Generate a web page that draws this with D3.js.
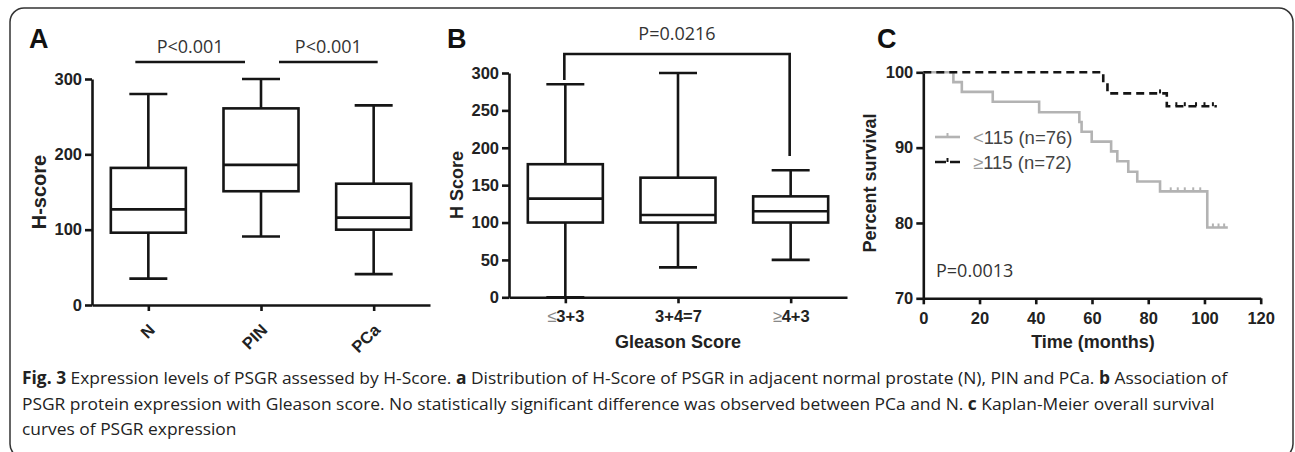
<!DOCTYPE html>
<html>
<head>
<meta charset="utf-8">
<style>
  body { margin: 0; background: #fff; }
  svg text { font-family: "Liberation Sans", Arial, sans-serif; }
</style>
</head>
<body>
<div id="fig"></div>
<script src="https://d3js.org/d3.v7.min.js"></script>
<script>
// ---- data ----
// panel A: H-score by tissue
var groupsA = ["N", "PIN", "PCa"];
var minA = [35, 91, 41];
var q1A  = [96, 151, 100];
var medA = [127, 186, 116];
var q3A  = [182, 261, 161];
var maxA = [280, 300, 265];
var ticksA = [0, 100, 200, 300];

// panel B: H score by Gleason score
var groupsB = ["≤3+3", "3+4=7", "≥4+3"];
var minB = [0, 40, 50];
var q1B  = [100, 100, 100];
var medB = [132, 110, 115];
var q3B  = [178, 160, 135];
var maxB = [285, 300, 170];
var ticksB = [0, 50, 100, 150, 200, 250, 300];

// panel C: Kaplan-Meier
var lowTime = [0, 10.7, 13.7, 24.7, 41.2, 55.5, 56.3, 59.9, 66.8, 69.0, 72.9, 76.1, 84.2, 101.0, 108.3];
var lowSurv = [100, 98.7, 97.4, 96.1, 94.7, 93.4, 92.1, 90.8, 89.5, 88.2, 86.8, 85.5, 84.2, 79.4, 79.4];
var lowCensor = [88, 90.5, 93, 96, 98.5, 103, 105, 107];
var highTime = [0, 64, 65.5, 86.6, 104.4];
var highSurv = [100, 98.6, 97.2, 95.5, 95.5];
var highCensor = [84.2, 90, 93, 97, 100, 103];
var ticksCX = [0, 20, 40, 60, 80, 100, 120];
var ticksCY = [70, 80, 90, 100];

var svg = d3.select("#fig").append("svg")
    .attr("width", 1295)
    .attr("height", 452);

// frame
svg.append("rect")
    .attr("x", 10).attr("y", 8)
    .attr("width", 1283).attr("height", 450)
    .attr("rx", 14)
    .attr("fill", "none")
    .attr("stroke", "#333")
    .attr("stroke-width", 1.5);

var lw = 2.6;
var ink = "#151515";

function styleAxis(g) {
  g.selectAll("path, line").attr("stroke", ink).attr("stroke-width", lw);
  g.selectAll("text")
    .attr("fill", "#222")
    .style("font-size", "16.5px")
    .style("font-weight", "bold");
}

function boxes(g, x, y, cats, mn, q1, md, q3, mx) {
  var bw = 75, cw = 38;
  cats.forEach(function(c, i) {
    var cx = x(c);
    var b = g.append("g").attr("stroke", ink).attr("stroke-width", lw).attr("fill", "none");
    b.append("line").attr("x1", cx).attr("x2", cx).attr("y1", y(mn[i])).attr("y2", y(q1[i]));
    b.append("line").attr("x1", cx).attr("x2", cx).attr("y1", y(q3[i])).attr("y2", y(mx[i]));
    b.append("line").attr("x1", cx - cw / 2).attr("x2", cx + cw / 2).attr("y1", y(mn[i])).attr("y2", y(mn[i]));
    b.append("line").attr("x1", cx - cw / 2).attr("x2", cx + cw / 2).attr("y1", y(mx[i])).attr("y2", y(mx[i]));
    b.append("rect").attr("x", cx - bw / 2).attr("width", bw)
      .attr("y", y(q3[i])).attr("height", y(q1[i]) - y(q3[i]));
    b.append("line").attr("x1", cx - bw / 2).attr("x2", cx + bw / 2).attr("y1", y(md[i])).attr("y2", y(md[i]));
  });
}

function panelLabel(txt, x) {
  svg.append("text").attr("x", x).attr("y", 48)
    .style("font-size", "27px").style("font-weight", "bold")
    .attr("fill", "#111").text(txt);
}

// ---- panel A ----
var xA = d3.scalePoint().domain(groupsA).range([92, 430]).padding(0.5);
var yA = d3.scaleLinear().domain([0, 300]).range([305, 79]);

var gA = svg.append("g");
gA.append("g").attr("transform", "translate(0,305)")
  .call(d3.axisBottom(xA).tickSize(6).tickSizeOuter(0))
  .call(styleAxis)
  .selectAll("text")
    .attr("x", 0).attr("y", 0).attr("dy", 0)
    .attr("text-anchor", "end")
    .attr("transform", "translate(7,26) rotate(-45)");
gA.append("g").attr("transform", "translate(92,0)")
  .call(d3.axisLeft(yA).tickValues(ticksA).tickSize(7).tickPadding(3).tickSizeOuter(0))
  .call(styleAxis);
boxes(gA, xA, yA, groupsA, minA, q1A, medA, q3A, maxA);

gA.append("text")
  .attr("transform", "translate(46,192) rotate(-90)")
  .attr("text-anchor", "middle")
  .style("font-size", "20px").style("font-weight", "bold").attr("fill", "#222")
  .text("H-score");

var sigA = [[xA("N") - 13, xA("PIN") - 16], [xA("PIN") + 18, xA("PCa") + 4]];
sigA.forEach(function(s) {
  gA.append("line").attr("x1", s[0]).attr("x2", s[1]).attr("y1", 62).attr("y2", 62)
    .attr("stroke", ink).attr("stroke-width", lw);
  gA.append("text").attr("x", (s[0] + s[1]) / 2).attr("y", 53)
    .attr("text-anchor", "middle")
    .style("font-family", "'Open Sans', sans-serif").style("font-size", "18px")
    .attr("fill", "#333").text("P<0.001");
});
panelLabel("A", 29);

// ---- panel B ----
var xB = d3.scalePoint().domain(groupsB).range([509, 847]).padding(0.5);
var yB = d3.scaleLinear().domain([0, 300]).range([297.3, 73]);

var gB = svg.append("g");
var axB = gB.append("g").attr("transform", "translate(0,297.3)")
  .call(d3.axisBottom(xB).tickSize(6).tickPadding(7).tickSizeOuter(0))
  .call(styleAxis);
axB.selectAll(".tick text").each(function(d) {
  var t = d3.select(this);
  var first = d.charAt(0);
  if (first === "≤" || first === "≥") {
    t.text(null);
    t.append("tspan").attr("fill", "#888").style("font-weight", "normal").text(first);
    t.append("tspan").text(d.slice(1));
  }
});
gB.append("g").attr("transform", "translate(509,0)")
  .call(d3.axisLeft(yB).tickValues(ticksB).tickSize(7).tickPadding(3).tickSizeOuter(0))
  .call(styleAxis);
boxes(gB, xB, yB, groupsB, minB, q1B, medB, q3B, maxB);

gB.append("text")
  .attr("transform", "translate(463,185) rotate(-90)")
  .attr("text-anchor", "middle")
  .style("font-size", "18px").style("font-weight", "bold").attr("fill", "#222")
  .text("H Score");
gB.append("text").attr("x", 678).attr("y", 348)
  .attr("text-anchor", "middle")
  .style("font-size", "18px").style("font-weight", "bold").attr("fill", "#222")
  .text("Gleason Score");

var bl = xB(groupsB[0]) - 1, br = xB(groupsB[2]) - 1;
gB.append("path")
  .attr("d", "M" + bl + ",80V54H" + br + "V156")
  .attr("fill", "none").attr("stroke", ink).attr("stroke-width", lw);
gB.append("text").attr("x", (bl + br) / 2).attr("y", 40)
  .attr("text-anchor", "middle")
  .style("font-family", "'Open Sans', sans-serif").style("font-size", "18px")
  .attr("fill", "#333").text("P=0.0216");
panelLabel("B", 447);

// ---- panel C ----
var xC = d3.scaleLinear().domain([0, 120]).range([923.3, 1260.7]);
var yC = d3.scaleLinear().domain([70, 100]).range([298.3, 72.3]);

var gC = svg.append("g");
gC.append("g").attr("transform", "translate(0,298.3)")
  .call(d3.axisBottom(xC).tickValues(ticksCX).tickSize(6).tickPadding(8).tickSizeOuter(0))
  .call(styleAxis);
gC.append("g").attr("transform", "translate(923.3,0)")
  .call(d3.axisLeft(yC).tickValues(ticksCY).tickSize(7).tickPadding(3).tickSizeOuter(0))
  .call(styleAxis);

var step = d3.line()
  .x(function(d) { return xC(d[0]); })
  .y(function(d) { return yC(d[1]); })
  .curve(d3.curveStepAfter);

var lowPts = lowTime.map(function(t, i) { return [t, lowSurv[i]]; });
var highPts = highTime.map(function(t, i) { return [t, highSurv[i]]; });

function survAt(times, surv, t) {
  var s = surv[0];
  times.forEach(function(tt, i) { if (tt <= t) s = surv[i]; });
  return s;
}

gC.append("path").attr("d", step(lowPts))
  .attr("fill", "none").attr("stroke", "#b3b3b3").attr("stroke-width", lw);
lowCensor.forEach(function(t) {
  var s = survAt(lowTime, lowSurv, t);
  gC.append("line").attr("x1", xC(t)).attr("x2", xC(t))
    .attr("y1", yC(s)).attr("y2", yC(s) - 4)
    .attr("stroke", "#b3b3b3").attr("stroke-width", 2);
});

gC.append("path").attr("d", step(highPts))
  .attr("fill", "none").attr("stroke", ink).attr("stroke-width", lw)
  .attr("stroke-dasharray", "8,5");
highCensor.forEach(function(t) {
  var s = survAt(highTime, highSurv, t);
  gC.append("line").attr("x1", xC(t)).attr("x2", xC(t))
    .attr("y1", yC(s)).attr("y2", yC(s) - 4)
    .attr("stroke", ink).attr("stroke-width", 2);
});

// legend
var leg = gC.append("g");
leg.append("line").attr("x1", 935).attr("x2", 960).attr("y1", 137).attr("y2", 137)
  .attr("stroke", "#b3b3b3").attr("stroke-width", lw);
leg.append("line").attr("x1", 947.5).attr("x2", 947.5).attr("y1", 137).attr("y2", 133)
  .attr("stroke", "#b3b3b3").attr("stroke-width", 2);
leg.append("line").attr("x1", 935).attr("x2", 960).attr("y1", 162).attr("y2", 162)
  .attr("stroke", ink).attr("stroke-width", lw).attr("stroke-dasharray", "11,4,10");
leg.append("line").attr("x1", 947.5).attr("x2", 947.5).attr("y1", 162).attr("y2", 158)
  .attr("stroke", ink).attr("stroke-width", 2);
var legText = [["<", "115 (n=76)", 144], ["≥", "115 (n=72)", 169]];
legText.forEach(function(l) {
  var t = leg.append("text").attr("x", 973).attr("y", l[2])
    .style("font-size", "18.5px").attr("fill", "#444");
  t.append("tspan").attr("fill", "#999").text(l[0]);
  t.append("tspan").text(l[1]);
});

gC.append("text").attr("x", 936).attr("y", 277)
  .style("font-family", "'Open Sans', sans-serif").style("font-size", "18px")
  .attr("fill", "#333").text("P=0.0013");
gC.append("text")
  .attr("transform", "translate(876,183) rotate(-90)")
  .attr("text-anchor", "middle")
  .style("font-size", "18px").style("font-weight", "bold").attr("fill", "#222")
  .text("Percent survival");
gC.append("text").attr("x", 1093).attr("y", 348)
  .attr("text-anchor", "middle")
  .style("font-size", "18px").style("font-weight", "bold").attr("fill", "#222")
  .text("Time (months)");
panelLabel("C", 877);

// ---- caption ----
var captionLines = [
  [["Fig. 3", true], [" Expression levels of PSGR assessed by H-Score. ", false], ["a", true],
   [" Distribution of H-Score of PSGR in adjacent normal prostate (N), PIN and PCa. ", false],
   ["b", true], [" Association of", false]],
  [["PSGR protein expression with Gleason score. No statistically significant difference was observed between PCa and N. ", false],
   ["c", true], [" Kaplan-Meier overall survival", false]],
  [["curves of PSGR expression", false]]
];
var capY = [384, 410, 435];
var cap = svg.append("g");
var capTexts = captionLines.map(function(line, i) {
  var t = cap.append("text").attr("x", 0).attr("y", capY[i])
    .style("font-family", "'Open Sans', sans-serif").style("font-size", "17px")
    .attr("fill", "#222").attr("xml:space", "preserve").style("white-space", "pre");
  line.forEach(function(p) {
    t.append("tspan").style("font-weight", p[1] ? "bold" : "normal").text(p[0]);
  });
  return t;
});
var sx = 1206 / capTexts[0].node().getComputedTextLength();
cap.attr("transform", "translate(22,0) scale(" + sx + ",1)");
</script>
</body>
</html>
